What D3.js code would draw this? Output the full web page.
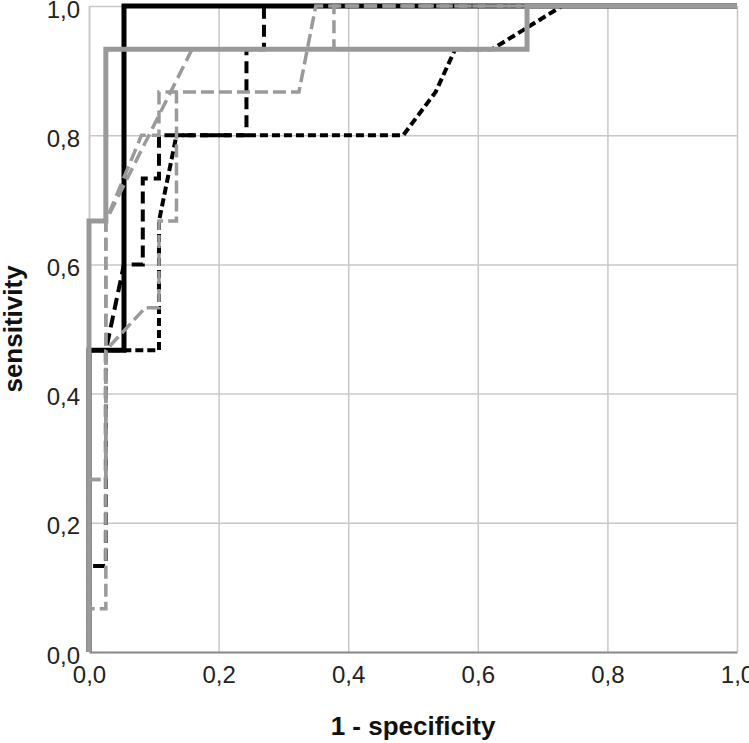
<!DOCTYPE html>
<html lang="en">
<head>
  <meta charset="UTF-8">
  <style>
    body { margin: 0; background: #fff; }
    .tick text { font-family: "Liberation Sans", Arial, sans-serif; font-size: 24px; fill: #222; }
    .title { font-family: "Liberation Sans", Arial, sans-serif; font-size: 26px; font-weight: bold; fill: #111; }
  </style>
  <title>ROC</title>
  <script src="https://d3js.org/d3.v7.min.js"></script>
</head>
<body>
<svg id="chart"></svg>
<script>

// ROC points: [1 - specificity, sensitivity]
const solidBlack = [[0,0],[0,0.467],[0.054,0.467],[0.054,1],[1,1]];
const solidGray  = [[0,0],[0,0.667],[0.026,0.667],[0.026,0.933],[0.676,0.933],[0.676,1],[1,1]];
const dashBlackA = [[0,0],[0,0.467],[0.108,0.467],[0.108,0.667],[0.135,0.8],[0.485,0.8],
                    [0.535,0.867],[0.565,0.933],[0.622,0.933],[0.73,1],[1,1]];
const dashBlackB = [[0,0],[0,0.133],[0.026,0.133],[0.026,0.467],[0.054,0.6],[0.083,0.6],
                    [0.083,0.733],[0.108,0.733],[0.108,0.8],[0.243,0.8],[0.243,0.933],
                    [0.27,0.933],[0.27,1],[1,1]];
const dashGrayA  = [[0,0],[0,0.067],[0.026,0.067],[0.026,0.467],[0.087,0.533],[0.108,0.533],
                    [0.108,0.667],[0.135,0.667],[0.135,0.867],[0.324,0.867],[0.35,1],[1,1]];
const dashGrayB  = [[0,0],[0,0.267],[0.026,0.267],[0.026,0.667],[0.159,0.933],[0.378,0.933],
                    [0.378,1],[1,1]];
const dashGrayC  = [[0,0],[0,0.267],[0.026,0.267],[0.026,0.667],[0.081,0.8],[0.108,0.8],
                    [0.108,0.867],[0.135,0.867]];

const tickValues = [0, 0.2, 0.4, 0.6, 0.8, 1.0];
const xTitle = '1 - specificity';
const yTitle = 'sensitivity';

const series = [
  {data: dashBlackA, color: '#000', width: 4, dash: '8,4'},
  {data: dashBlackB, color: '#000', width: 4, dash: '12,6'},
  {data: solidBlack, color: '#000', width: 5, dash: null},
  {data: solidGray,  color: '#999', width: 5, dash: null},
  {data: dashGrayC,  color: '#9a9a9a', width: 3.5, dash: '13,6'},
  {data: dashGrayB,  color: '#9a9a9a', width: 3.5, dash: '13,6'},
  {data: dashGrayA,  color: '#9a9a9a', width: 3.5, dash: '13,5'}
];

const size = {width: 749, height: 743};
const margin = {top: 6, right: 12, bottom: 91, left: 89};

const svg = d3.select('#chart')
              .attr('width', size.width)
              .attr('height', size.height);

const xScale = d3.scaleLinear()
                 .domain([0, 1])
                 .range([margin.left, size.width - margin.right]);
const yScale = d3.scaleLinear()
                 .domain([0, 1])
                 .range([size.height - margin.bottom, margin.top]);

const fmt = d3.formatLocale({decimal: ',', thousands: '.', grouping: [3], currency: ['', '']}).format('.1f');

// grid
svg.append('g')
   .attr('class', 'grid-x')
   .attr('transform', 'translate(0,' + yScale(0) + ')')
   .call(d3.axisBottom(xScale).tickValues(tickValues).tickSize(-(yScale(0) - yScale(1))).tickFormat(''))
   .call(function(g) {
     g.select('.domain').remove();
     g.selectAll('line').attr('stroke', '#c8c8c8').attr('stroke-width', 1.5);
   });
svg.append('g')
   .attr('class', 'grid-y')
   .attr('transform', 'translate(' + xScale(0) + ',0)')
   .call(d3.axisLeft(yScale).tickValues(tickValues).tickSize(-(xScale(1) - xScale(0))).tickFormat(''))
   .call(function(g) {
     g.select('.domain').remove();
     g.selectAll('line').attr('stroke', '#c8c8c8').attr('stroke-width', 1.5);
   });

// axes
svg.append('g')
   .attr('class', 'axis-x')
   .attr('transform', 'translate(0,' + yScale(0) + ')')
   .call(d3.axisBottom(xScale).tickValues(tickValues).tickSize(0).tickPadding(14).tickFormat(fmt))
   .call(function(g) {
     g.select('.domain').attr('stroke', '#8c8c8c').attr('stroke-width', 2);
   });
svg.append('g')
   .attr('class', 'axis-y')
   .attr('transform', 'translate(' + xScale(0) + ',0)')
   .call(d3.axisLeft(yScale).tickValues(tickValues).tickSize(0).tickPadding(9).tickFormat(fmt))
   .call(function(g) {
     g.select('.domain').attr('stroke', '#c8c8c8').attr('stroke-width', 1.5);
     g.selectAll('text').attr('dy', '0.46em');
   });

// curves
const line = d3.line()
               .x(function(d) { return xScale(d[0]); })
               .y(function(d) { return yScale(d[1]); });

svg.selectAll('.curve')
   .data(series)
   .enter()
   .append('path')
   .attr('class', 'curve')
   .attr('fill', 'none')
   .attr('stroke', function(d) { return d.color; })
   .attr('stroke-width', function(d) { return d.width; })
   .attr('stroke-dasharray', function(d) { return d.dash; })
   .attr('stroke-linejoin', 'miter')
   .attr('d', function(d) { return line(d.data); });

// titles
svg.append('text')
   .attr('class', 'title')
   .attr('x', (xScale(0) + xScale(1)) / 2)
   .attr('y', 735)
   .attr('text-anchor', 'middle')
   .text(xTitle);
svg.append('text')
   .attr('class', 'title')
   .attr('transform', 'translate(22,' + (yScale(0) + yScale(1)) / 2 + ') rotate(-90)')
   .attr('text-anchor', 'middle')
   .text(yTitle);

</script>
</body>
</html>
